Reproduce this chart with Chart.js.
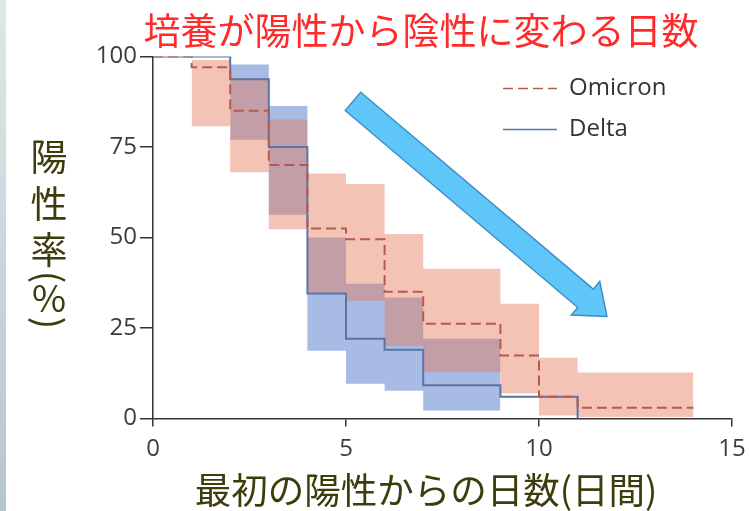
<!DOCTYPE html>
<html>
<head>
<meta charset="utf-8">
<script src="https://cdn.jsdelivr.net/npm/chart.js@4.4.1/dist/chart.umd.min.js"></script>
<style>
  html, body { margin: 0; padding: 0; background: #fff; }
  #wrap { width: 749px; height: 511px; position: relative; }
</style>
</head>
<body>
<div id="wrap"><canvas id="chart" width="749" height="511"></canvas></div>
<script>
  const titleText = '培養が陽性から陰性に変わる日数';
  const xTitle = '最初の陽性からの日数(日間)';
  const yTitle = ['陽', '性', '率', '(', '%', ')'];
  const seriesNames = ['Omicron', 'Delta'];

  // step curves: value holds from day[i] until day[i+1]
  const omicronDays = [0, 1, 2, 3, 4, 5, 6, 7, 9, 10, 11, 14];
  const omicronPct = [100, 97, 85, 70, 52.5, 49.5, 35, 26.2, 17.4, 6, 3, 3];
  const deltaDays = [0, 2, 3, 4, 5, 6, 7, 9, 11];
  const deltaPct = [100, 93.7, 75, 34.5, 22, 19, 9.2, 6, 0];

  // confidence bands
  const omicronBandDays = [1, 2, 3, 4, 5, 6, 7, 9, 10, 11, 14];
  const omicronBandHigh = [99, 94, 82.6, 67.7, 64.8, 51, 41.4, 31.7, 16.8, 12.7, 12.7];
  const omicronBandLow = [80.7, 68, 52.3, 34.5, 32.5, 20, 12.8, 7, 0.8, 0.4, 0.4];
  const deltaBandDays = [2, 3, 4, 5, 6, 7, 9];
  const deltaBandHigh = [97.8, 86.3, 50, 37.2, 33.4, 22, 22];
  const deltaBandLow = [77, 56.3, 18.7, 9.6, 7.7, 2.2, 2.2];

  // arrow annotation, in data units (day, %)
  const arrowFrom = [5.18, 87.6];
  const arrowTo = [11.76, 28.2];

  const omicronColor = '#b65a50';
  const deltaColor = '#5a74a8';
  const tickFont = '"Open Sans", "DejaVu Sans", sans-serif';
  const cjkFont = '"Noto Sans CJK JP", sans-serif';

  function pts(xs, ys) {
    return xs.map((x, i) => ({ x: x, y: ys[i] }));
  }

  const decorations = {
    id: 'decorations',
    beforeDraw(chart) {
      const ctx = chart.ctx;
      ctx.save();
      const g = ctx.createLinearGradient(0, 0, 0, chart.height);
      g.addColorStop(0, '#dfe7e8');
      g.addColorStop(1, '#b4c7cd');
      ctx.fillStyle = g;
      ctx.fillRect(0, 0, 6, chart.height);
      ctx.restore();
    },
    afterDatasetsDraw(chart) {
      const ctx = chart.ctx;
      const xs = chart.scales.x, ys = chart.scales.y;
      const x0 = xs.getPixelForValue(arrowFrom[0]), y0 = ys.getPixelForValue(arrowFrom[1]);
      const x1 = xs.getPixelForValue(arrowTo[0]), y1 = ys.getPixelForValue(arrowTo[1]);
      const len = Math.hypot(x1 - x0, y1 - y0);
      const ux = (x1 - x0) / len, uy = (y1 - y0) / len;
      const px = -uy, py = ux;
      const shaft = 12, head = 22, headLen = 28;
      const bx = x1 - ux * headLen, by = y1 - uy * headLen;
      ctx.save();
      ctx.beginPath();
      ctx.moveTo(x0 + px * shaft, y0 + py * shaft);
      ctx.lineTo(bx + px * shaft, by + py * shaft);
      ctx.lineTo(bx + px * head, by + py * head);
      ctx.lineTo(x1, y1);
      ctx.lineTo(bx - px * head, by - py * head);
      ctx.lineTo(bx - px * shaft, by - py * shaft);
      ctx.lineTo(x0 - px * shaft, y0 - py * shaft);
      ctx.closePath();
      ctx.fillStyle = '#5ec6f8';
      ctx.fill();
      ctx.strokeStyle = '#3d8fc4';
      ctx.lineWidth = 1.5;
      ctx.stroke();
      ctx.restore();
    },
    afterDraw(chart) {
      const ctx = chart.ctx;
      const ca = chart.chartArea;
      ctx.save();

      // title
      ctx.fillStyle = '#ff2b2b';
      ctx.font = '37px ' + cjkFont;
      ctx.textAlign = 'center';
      ctx.textBaseline = 'middle';
      ctx.fillText(titleText, 421, 31);

      // axis titles
      ctx.fillStyle = '#3c3c0c';
      ctx.font = '36.5px ' + cjkFont;
      ctx.fillText(xTitle, 426, 490);

      ctx.font = '37px ' + cjkFont;
      const cy = [157, 204, 250, 277, 298, 323];
      yTitle.forEach((ch, i) => {
        ctx.save();
        ctx.translate(49, cy[i]);
        if (ch === '(' || ch === ')') ctx.rotate(Math.PI / 2);
        ctx.fillText(ch, 0, 0);
        ctx.restore();
      });

      // legend
      const lx = ca.right - 229;
      const rows = [ca.top + 32, ca.top + 73];
      const ds = chart.data.datasets;
      ctx.font = '24px ' + tickFont;
      ctx.textAlign = 'left';
      rows.forEach((ry, i) => {
        ctx.beginPath();
        ctx.strokeStyle = ds[i].borderColor;
        ctx.lineWidth = 1.6;
        ctx.setLineDash(ds[i].borderDash || []);
        ctx.moveTo(lx, ry);
        ctx.lineTo(lx + 54, ry);
        ctx.stroke();
        ctx.setLineDash([]);
        ctx.fillStyle = '#333';
        ctx.fillText(seriesNames[i], lx + 66, ry);
      });
      ctx.restore();
    }
  };

  const ctx = document.getElementById('chart');
  new Chart(ctx, {
    type: 'line',
    data: {
      datasets: [
        {
          label: seriesNames[0],
          data: pts(omicronDays, omicronPct),
          borderColor: omicronColor,
          borderWidth: 2,
          borderDash: [10, 5],
          stepped: true,
          fill: false,
          pointRadius: 0,
          order: 0
        },
        {
          label: seriesNames[1],
          data: pts(deltaDays, deltaPct),
          borderColor: deltaColor,
          borderWidth: 2,
          stepped: true,
          fill: false,
          pointRadius: 0,
          order: 0
        },
        {
          label: 'Omicron CI high',
          data: pts(omicronBandDays, omicronBandHigh),
          borderWidth: 0,
          borderColor: 'rgba(0,0,0,0)',
          backgroundColor: 'rgba(228, 125, 92, 0.45)',
          stepped: true,
          fill: '+1',
          pointRadius: 0,
          order: 1
        },
        {
          label: 'Omicron CI low',
          data: pts(omicronBandDays, omicronBandLow),
          borderWidth: 0,
          borderColor: 'rgba(0,0,0,0)',
          stepped: true,
          fill: false,
          pointRadius: 0,
          order: 1
        },
        {
          label: 'Delta CI high',
          data: pts(deltaBandDays, deltaBandHigh),
          borderWidth: 0,
          borderColor: 'rgba(0,0,0,0)',
          backgroundColor: 'rgba(70, 110, 200, 0.47)',
          stepped: true,
          fill: '+1',
          pointRadius: 0,
          order: 2
        },
        {
          label: 'Delta CI low',
          data: pts(deltaBandDays, deltaBandLow),
          borderWidth: 0,
          borderColor: 'rgba(0,0,0,0)',
          stepped: true,
          fill: false,
          pointRadius: 0,
          order: 2
        }
      ]
    },
    options: {
      responsive: false,
      animation: false,
      layout: { padding: { top: 56.5, right: 17, left: 0, bottom: 0 } },
      plugins: {
        legend: { display: false },
        tooltip: { enabled: false },
        title: { display: false }
      },
      scales: {
        x: {
          type: 'linear',
          min: 0,
          max: 15,
          afterFit(scale) {
            scale.height = 92.5;
            scale.paddingLeft = 0;
            scale.paddingRight = 0;
          },
          border: { color: '#333', width: 1.5 },
          grid: { drawOnChartArea: false, tickLength: 8, color: '#333', lineWidth: 1.5 },
          ticks: { stepSize: 5, color: '#3c3c3c', padding: 8, font: { family: tickFont, size: 24 } }
        },
        y: {
          min: 0,
          max: 100,
          afterFit(scale) {
            scale.width = 153;
            scale.paddingTop = 0;
            scale.paddingBottom = 0;
          },
          border: { color: '#333', width: 1.5 },
          grid: { drawOnChartArea: false, tickLength: 13, color: '#333', lineWidth: 1.5 },
          ticks: { stepSize: 25, color: '#3c3c3c', padding: 3, font: { family: tickFont, size: 24 } }
        }
      }
    },
    plugins: [decorations]
  });
</script>
</body>
</html>
